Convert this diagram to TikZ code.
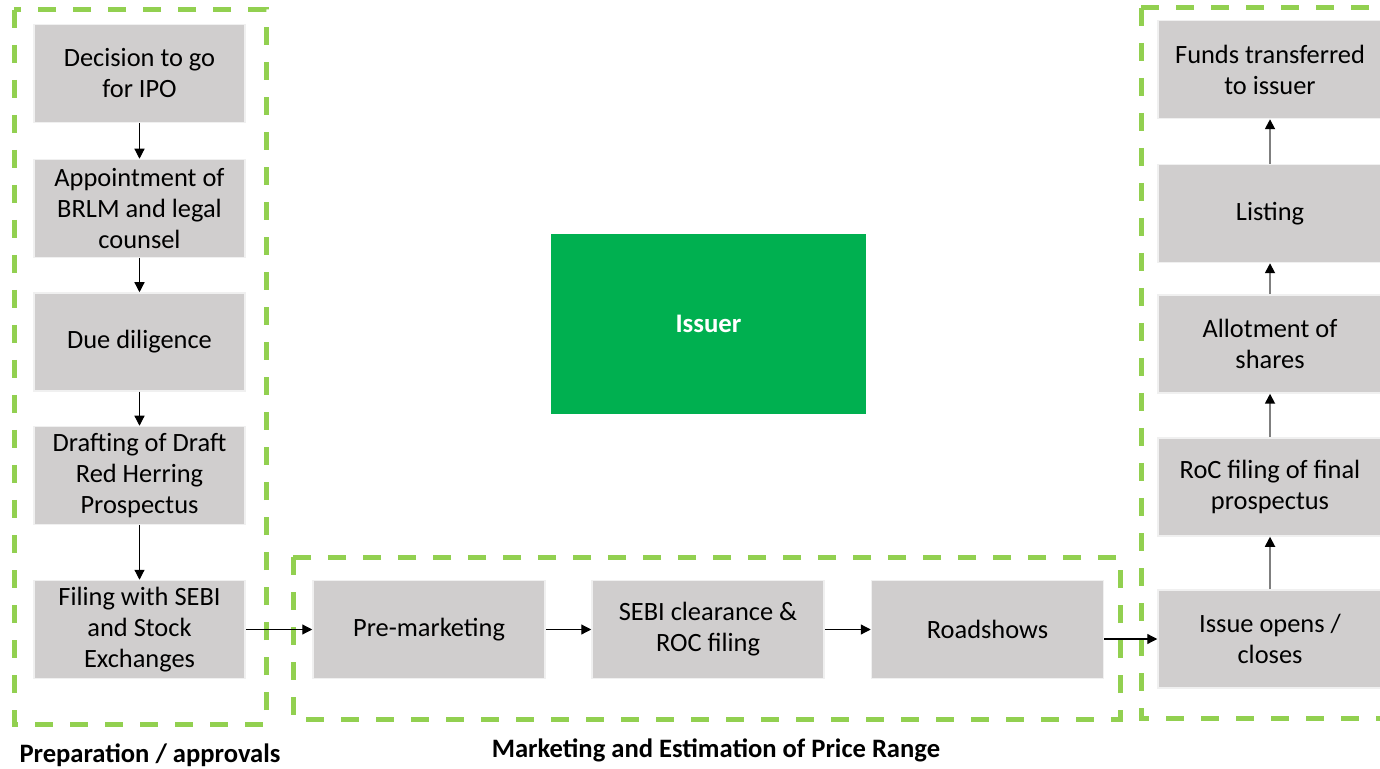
\documentclass[tikz,border=0pt]{standalone}
\usepackage{fontspec}
\setmainfont{Carlito}
\usetikzlibrary{arrows.meta}

\definecolor{boxgray}{HTML}{D0CECE}
\definecolor{dashgreen}{HTML}{92D050}
\definecolor{issuergreen}{HTML}{00B050}
\definecolor{linegray}{HTML}{7F7F7F}

\tikzset{
    stepbox/.style={fill=boxgray, draw=gray!12, line width=.75pt, align=center,
        minimum width=\bw, minimum height=49pt, inner sep=0pt, font=\fontsize{13.2}{15.5}\selectfont},
    phase/.style={draw=dashgreen, line width=2.5pt, dash pattern=on 9pt off 8.5pt},
    flow/.style={-{Triangle[length=5pt,width=5pt]}, line width=.6pt, black},
    upflow/.style={-{Triangle[length=5pt,width=5pt,black]}, line width=.9pt, linegray},
    phaselabel/.style={font=\bfseries\fontsize{13.3}{15}\selectfont}
}

\begin{document}
\begin{tikzpicture}[x=0.5pt, y=-0.5pt] % one unit is one pixel of the reference
    % Page frame
    \useasboundingbox[fill=white] (0,0) rectangle (1380,769);

    % Column parameters
    \def\lx{139.5} % centre of the left column
    \def\rx{1270} % centre of the right column
    \def\my{629.5} % centre of the bottom row

    % Dashed phase frames
    \draw[phase] (14,10) rectangle (266,724);
    \draw[phase] (293,557) rectangle (1120,719);
    \draw[phase] (1141,8) rectangle (1420,718); % right side runs off the page

    % Preparation / approvals
    \def\bw{105.5pt}
    \node[stepbox] (decide) at (\lx,73.5) {Decision to go\\for IPO};
    \node[stepbox] (appoint) at (\lx,208.5) {Appointment of\\BRLM and legal\\counsel};
    \node[stepbox] (diligence) at (\lx,342) {Due diligence};
    \node[stepbox] (drafting) at (\lx,475.5) {Drafting of Draft\\Red Herring\\Prospectus};
    \node[stepbox] (filing) at (\lx,\my) {Filing with SEBI\\and Stock\\Exchanges};

    % Marketing row
    \def\bw{116pt}
    \node[stepbox] (premarket) at (429,\my) {Pre-marketing};
    \node[stepbox] (clearance) at (708,\my) {SEBI clearance \&\\ROC filing};
    \node[stepbox] (roadshow) at (987.5,\my) {Roadshows};

    % Issue and listing
    \def\bw{112pt}
    \node[stepbox] (opens) at (\rx,639) {Issue opens /\\closes};
    \node[stepbox] (rocfile) at (\rx,487) {RoC filing of final\\prospectus};
    \node[stepbox] (allot) at (\rx,344) {Allotment of\\shares};
    \node[stepbox] (listing) at (\rx,213.5) {Listing};
    \node[stepbox] (funds) at (\rx,69.5) {Funds transferred\\to issuer};

    % The issuer
    \node[fill=issuergreen, minimum width=157.5pt, minimum height=90pt, text=white,
        font=\bfseries\fontsize{13.4}{15}\selectfont] (issuer) at (708.5,324) {Issuer};

    % Arrows
    \draw[flow] (decide) -- (appoint);
    \draw[flow] (appoint) -- (diligence);
    \draw[flow] (diligence) -- (drafting);
    \draw[flow] (drafting) -- (filing);
    \draw[flow] (filing) -- (premarket);
    \draw[flow] (premarket) -- (clearance);
    \draw[flow] (clearance) -- (roadshow);
    \draw[flow] (roadshow.east |- opens.west) -- (opens.west);
    \draw[upflow] (opens) -- (rocfile);
    \draw[upflow] (rocfile) -- (allot);
    \draw[upflow] (allot) -- (listing);
    \draw[upflow] (listing) -- (funds);

    % Phase labels
    \node[phaselabel] (preplabel) at (150,755) {Preparation / approvals};
    \node[phaselabel] (marklabel) at (716,750) {Marketing and Estimation of Price Range};
\end{tikzpicture}
\end{document}
